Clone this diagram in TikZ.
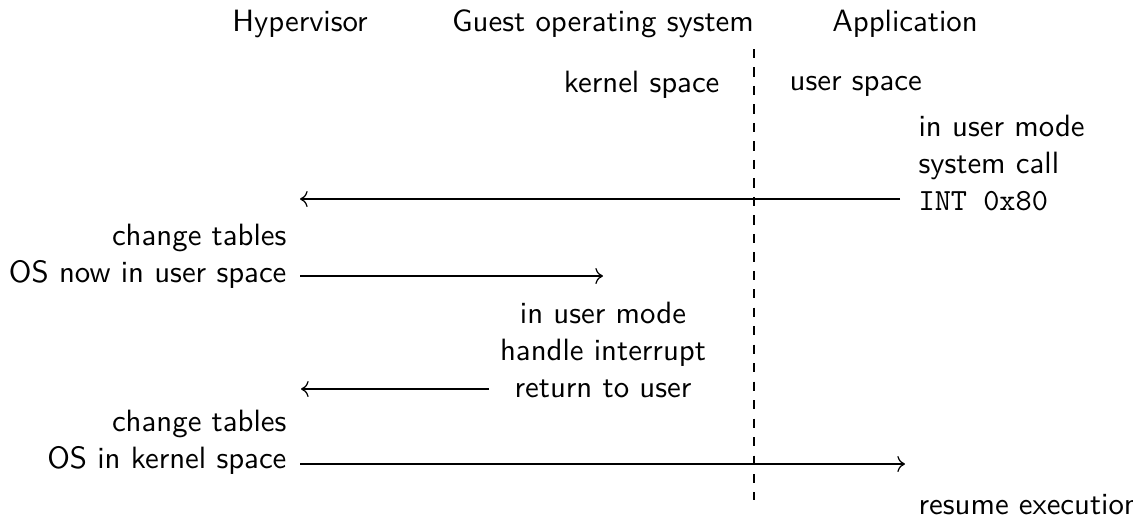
\documentclass[tikz,border=0pt]{standalone}
\usepackage{fontspec}
\usetikzlibrary{arrows.meta}
\begin{document}
\begin{tikzpicture}[x=0.3247pt, y=-0.3247pt,
  every node/.style={font=\sffamily, inner sep=0pt},
  lbl/.style={anchor=base},
  msg/.style={->},
  divider/.style={dashed}]
\useasboundingbox (0,0) rectangle (1133,517);

% column headings
\node[lbl] (hyp) at (300,31) {Hypervisor};
\node[lbl] (gos) at (603,31) {Guest operating system};
\node[lbl] (app) at (905,31) {Application};

% kernel / user boundary
\coordinate (divtop) at (754,49);
\coordinate (divbot) at (754,500);
\draw[divider] (divtop) -- (divbot);
\node[lbl, anchor=base east] (ks) at (720,92) {kernel space};
\node[lbl, anchor=base west] (us) at (789,90) {user space};

% step 1: the application issues the system call
% (the base anchor of a multi-line node sits on its last line)
\node[lbl, anchor=base west, align=left] (sys) at (918,210)
  {in user mode\\system call\\\texttt{INT 0x80}};
\coordinate (a1) at (900,199);
\coordinate (h1) at (300,199);
\draw[msg] (a1) -- (h1);

% step 2: the hypervisor switches to the guest kernel
\node[lbl, anchor=base east, align=right] (ct1) at (287,282)
  {change tables\\OS now in user space};
\coordinate (h2) at (300,276);
\coordinate (g2) at (603,276);
\draw[msg] (h2) -- (g2);

% step 3: the guest kernel handles the interrupt
\node[lbl, align=center] (hi) at (603,397)
  {in user mode\\handle interrupt\\return to user};
\coordinate (g3) at (489,389);
\coordinate (h3) at (301,389);
\draw[msg] (g3) -- (h3);

% step 4: back to the application
\node[lbl, anchor=base east, align=right] (ct2) at (287,468)
  {change tables\\OS in kernel space};
\coordinate (h4) at (300,464);
\coordinate (a4) at (905,464);
\draw[msg] (h4) -- (a4);
\node[lbl, anchor=base west] (res) at (918,514) {resume execution};
\end{tikzpicture}
\end{document}
